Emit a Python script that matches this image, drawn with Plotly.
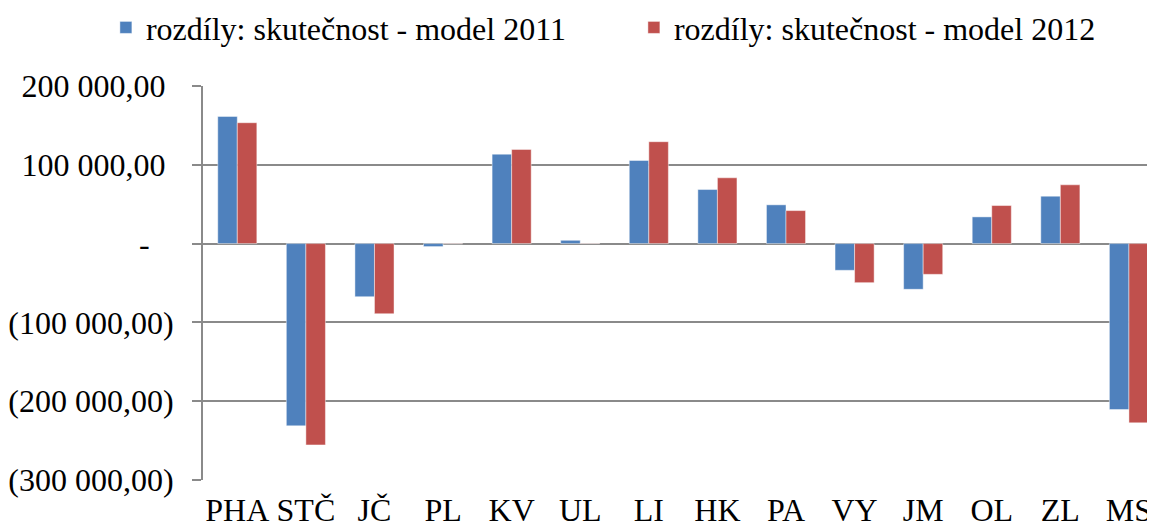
import plotly.graph_objects as go

categories = ["PHA", "STČ", "JČ", "PL", "KV", "UL", "LI", "HK", "PA", "VY", "JM", "OL", "ZL", "MS"]
model_2011 = [161400, -231300, -67400, -3800, 113500, 4200, 105500, 68600, 49200, -33900, -58000, 33900, 60200, -210600]
model_2012 = [153400, -255500, -89000, -300, 119500, 300, 129300, 83500, 41900, -49600, -39000, 48300, 74600, -227500]
series_names = ["rozdíly: skutečnost - model 2011", "rozdíly: skutečnost - model 2012"]
y_tickvals = [200000, 100000, 0, -100000, -200000, -300000]
y_ticktext = ["200 000,00\u00a0", "100 000,00\u00a0", "-\u00a0\u00a0\u00a0",
              "(100 000,00)", "(200 000,00)", "(300 000,00)"]

FONT = "Liberation Serif"
FS = 32
GRID = "#8a8a8a"
idx = list(range(len(categories)))

fig = go.Figure()
fig.add_trace(go.Bar(x=idx, y=model_2011, name=series_names[0],
                     marker=dict(color="#4F81BD", line=dict(color="rgba(255,255,255,0.45)", width=1))))
fig.add_trace(go.Bar(x=idx, y=model_2012, name=series_names[1],
                     marker=dict(color="#C0504D", line=dict(color="rgba(255,255,255,0.45)", width=1))))

xr = [-0.5, 13.38]
# page body adds an 8px offset; compensate so the plot sits where the reference has it
fig.update_layout(
    width=1147, height=521,
    margin=dict(l=195, r=0, t=78, b=49, autoexpand=False),
    paper_bgcolor="white", plot_bgcolor="white",
    barmode="group", bargap=0.43, bargroupgap=0,
    font=dict(family=FONT, size=FS, color="black"),
    showlegend=True,
    legend=dict(orientation="h", x=-0.102, xanchor="left", y=1.218, yanchor="top",
                font=dict(family=FONT, size=FS, color="black"),
                entrywidth=483, entrywidthmode="pixels", itemwidth=30,
                bgcolor="rgba(0,0,0,0)"),
    xaxis=dict(range=xr, tickmode="array", tickvals=idx, ticktext=categories,
               showgrid=False, zeroline=False, showline=False, ticks="", automargin=False,
               tickfont=dict(family=FONT, size=FS, color="black"), ticklabelstandoff=8),
    xaxis2=dict(overlaying="x", anchor="free", position=0.6, range=xr,
                tickmode="array", tickvals=[i + 0.5 for i in idx],
                ticks="outside", ticklen=10, tickwidth=2, tickcolor=GRID,
                showline=True, linecolor=GRID, linewidth=2,
                showticklabels=False, showgrid=False, zeroline=False),
    yaxis=dict(range=[-300000, 200000], tickmode="array", tickvals=y_tickvals, ticktext=y_ticktext,
               showgrid=True, gridcolor=GRID, gridwidth=2, zeroline=False, automargin=False,
               showline=True, linecolor=GRID, linewidth=2,
               ticks="outside", ticklen=9, tickwidth=2, tickcolor=GRID,
               tickfont=dict(family=FONT, size=FS, color="black"), ticklabelstandoff=12),
)

fig.write_html("out.html")
